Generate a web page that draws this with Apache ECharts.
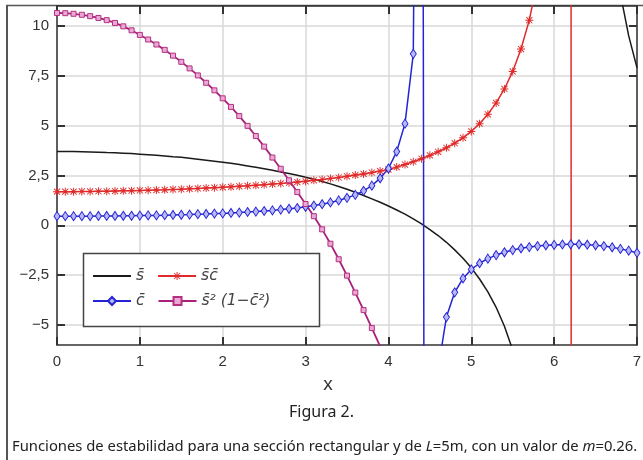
<!DOCTYPE html>
<html>
<head>
<meta charset="utf-8">
<title>Funciones de estabilidad</title>
<script src="https://cdn.jsdelivr.net/npm/echarts@6/dist/echarts.min.js"></script>
<style>
  html, body { margin: 0; padding: 0; background: #fff; }
  #chart { width: 643px; height: 460px; }
</style>
</head>
<body>
<div id="chart"></div>
<script>
// x values (sampling step of the markers)
const xs = [
  0, 0.1, 0.2, 0.3, 0.4, 0.5, 0.6, 0.7, 0.8, 0.9,
  1, 1.1, 1.2, 1.3, 1.4, 1.5, 1.6, 1.7, 1.8, 1.9,
  2, 2.1, 2.2, 2.3, 2.4, 2.5, 2.6, 2.7, 2.8, 2.9,
  3, 3.1, 3.2, 3.3, 3.4, 3.5, 3.6, 3.7, 3.8, 3.9,
  4, 4.1, 4.2, 4.3, 4.4, 4.5, 4.6, 4.7, 4.8, 4.9,
  5, 5.1, 5.2, 5.3, 5.4, 5.5, 5.6, 5.7, 5.8, 5.9,
  6, 6.1, 6.2, 6.3, 6.4, 6.5, 6.6, 6.7, 6.8, 6.9,
  7
];

// s bar (black line)
const sBar = [
  3.70, 3.70, 3.70, 3.69, 3.68, 3.67, 3.65, 3.64, 3.62, 3.60,
  3.57, 3.54, 3.51, 3.48, 3.44, 3.41, 3.37, 3.32, 3.27, 3.22,
  3.17, 3.11, 3.05, 2.98, 2.91, 2.84, 2.76, 2.68, 2.60, 2.51,
  2.41, 2.31, 2.20, 2.08, 1.95, 1.81, 1.66, 1.50, 1.33, 1.16,
  0.97, 0.77, 0.56, 0.32, 0.07, -0.21, -0.51, -0.85, -1.23, -1.65,
  -2.13, -2.69, -3.34, -4.11, -5.06, -6.25, -7.80, null, null, null,
  null, null, null, null, null, null, null, null, 11.6, 9.5,
  7.9
];

// sc bar (red, stars)
const scBar = [
  1.69, 1.69, 1.69, 1.70, 1.70, 1.71, 1.71, 1.72, 1.73, 1.74,
  1.75, 1.76, 1.77, 1.78, 1.80, 1.81, 1.83, 1.85, 1.87, 1.89,
  1.91, 1.93, 1.96, 1.98, 2.01, 2.04, 2.07, 2.10, 2.14, 2.17,
  2.21, 2.26, 2.30, 2.35, 2.40, 2.46, 2.52, 2.58, 2.65, 2.72,
  2.80, 2.92, 3.05, 3.19, 3.34, 3.51, 3.69, 3.89, 4.12, 4.39,
  4.71, 5.10, 5.57, 6.14, 6.84, 7.72, 8.84, 10.29, 12.3, 15.2,
  19.5, 27, 60, -1100, null, null, null, null, null, null,
  null
];

// c bar (blue, diamonds)
const cBar = [
  0.46, 0.46, 0.46, 0.46, 0.46, 0.47, 0.47, 0.47, 0.48, 0.48,
  0.49, 0.50, 0.50, 0.51, 0.52, 0.53, 0.54, 0.56, 0.57, 0.59,
  0.60, 0.62, 0.64, 0.67, 0.69, 0.72, 0.75, 0.79, 0.83, 0.87,
  0.93, 0.99, 1.06, 1.15, 1.25, 1.38, 1.53, 1.73, 1.99, 2.36,
  2.85, 3.70, 5.10, 8.60, 60, -180, -7.2, -4.6, -3.36, -2.66,
  -2.21, -1.90, -1.67, -1.49, -1.35, -1.24, -1.15, -1.09, -1.04, -1.00,
  -0.98, -0.96, -0.95, -0.95, -0.97, -1.00, -1.04, -1.10, -1.18, -1.27,
  -1.38
];

// s bar^2 (1 - c bar^2) (magenta, squares)
const s2c = [
  10.65, 10.64, 10.61, 10.56, 10.49, 10.40, 10.29, 10.15, 9.98, 9.78,
  9.55, 9.32, 9.07, 8.80, 8.51, 8.20, 7.87, 7.52, 7.15, 6.77,
  6.37, 5.94, 5.48, 4.99, 4.48, 3.95, 3.40, 2.84, 2.26, 1.67,
  1.07, 0.46, -0.20, -0.92, -1.70, -2.52, -3.37, -4.25, -5.15, -6.07,
  -7.01, null, null, null, null, null, null, null, null, null,
  null, null, null, null, null, null, null, null, null, null,
  null, null, null, null, null, null, null, null, null, null,
  null
];

const yTicks = [-5, -2.5, 0, 2.5, 5, 7.5, 10];

const N_S = 's\u0304';
const N_SC = 's\u0304c\u0304';
const N_C = 'c\u0304';
const N_MAG = 's\u0304\u00b2 (1\u2212c\u0304\u00b2)';

const asterisk = 'path://M4.4 0h1.2v10h-1.2z M0 4.4h10v1.2h-10z M0.8 1.6L1.6 0.8L9.2 8.4L8.4 9.2z M8.4 0.8L9.2 1.6L1.6 9.2L0.8 8.4z';

const pairs = ys => xs.map((x, i) => [x, ys[i] === null ? '-' : ys[i]]);
const fmtY = v => String(v).replace('.', ',').replace('-', '\u2212');

const axisColor = '#333';
const gridColor = '#d9d9d9';
const labelFont = { fontSize: 15, color: '#333', fontFamily: 'Liberation Sans' };

const legendCommon = {
  orient: 'horizontal',
  left: 92,
  padding: 0,
  itemWidth: 38,
  itemHeight: 10,
  itemGap: 13,
  selectedMode: false,
  textStyle: { fontFamily: 'DejaVu Sans', fontStyle: 'italic', fontSize: 15.5, color: '#444' }
};

const chart = echarts.init(document.getElementById('chart'));
chart.setOption({
  animation: false,
  backgroundColor: '#fff',
  grid: { left: 57, right: 6, top: 6, bottom: 115, containLabel: false, outerBoundsMode: 'none' },
  xAxis: [{
    type: 'value', min: 0, max: 7, interval: 1,
    axisLine: { show: true, onZero: false, lineStyle: { color: axisColor, width: 1.5 } },
    axisTick: { show: true, inside: true, length: 8, lineStyle: { color: axisColor, width: 2 } },
    axisLabel: Object.assign({ margin: 9 }, labelFont),
    splitLine: { show: true, lineStyle: { color: gridColor, width: 1.5 } }
  }, {
    type: 'value', min: 0, max: 7, interval: 1, position: 'top',
    axisLine: { show: true, onZero: false, lineStyle: { color: axisColor, width: 1.5 } },
    axisTick: { show: true, inside: true, length: 8, lineStyle: { color: axisColor, width: 2 } },
    axisLabel: { show: false },
    splitLine: { show: false }
  }],
  yAxis: [{
    type: 'value', min: -6, max: 11,
    axisLine: { show: true, onZero: false, lineStyle: { color: axisColor, width: 1.5 } },
    axisTick: { show: true, inside: true, length: 8, customValues: yTicks, lineStyle: { color: axisColor, width: 2 } },
    axisLabel: Object.assign({ margin: 8, customValues: yTicks, formatter: fmtY }, labelFont),
    splitLine: { show: true, lineStyle: { color: gridColor, width: 1.5 } }
  }, {
    type: 'value', min: -6, max: 11, position: 'right',
    axisLine: { show: true, onZero: false, lineStyle: { color: axisColor, width: 1.5 } },
    axisTick: { show: true, inside: true, length: 8, customValues: yTicks, lineStyle: { color: axisColor, width: 2 } },
    axisLabel: { show: false },
    splitLine: { show: false }
  }],
  legend: [
    Object.assign({ top: 268, data: [{ name: N_S, itemStyle: { opacity: 0 } }, N_SC] }, legendCommon),
    Object.assign({ top: 293, data: [N_C, N_MAG] }, legendCommon)
  ],
  graphic: [
    { type: 'line', shape: { x1: 7, y1: 5, x2: 7, y2: 460 }, style: { stroke: '#555', lineWidth: 2 } },
    { type: 'line', shape: { x1: 6, y1: 5.5, x2: 643, y2: 5.5 }, style: { stroke: '#555', lineWidth: 1.5 } },
    { type: 'rect', z: 3, shape: { x: 83.5, y: 253.5, width: 236, height: 73 },
      style: { fill: '#fff', stroke: '#444', lineWidth: 1.5 } },
    { type: 'text', x: 328, y: 385,
      style: { text: 'x', font: '19px "Liberation Sans"', fill: '#333', align: 'center', verticalAlign: 'middle' } },
    { type: 'text', x: 321.5, y: 412,
      style: { text: 'Figura 2.', font: '16px "Noto Sans"', fill: '#222', align: 'center', verticalAlign: 'middle' } },
    { type: 'text', x: 12, y: 447,
      style: {
        text: 'Funciones de estabilidad para una sección rectangular y de {i|L}=5m, con un valor de {i|m}=0.26.',
        font: '14.8px "Noto Sans"', fill: '#222', align: 'left', verticalAlign: 'middle',
        rich: { i: { fontStyle: 'italic', fontSize: 14.8, fontFamily: 'Noto Sans', fill: '#222' } }
      } }
  ],
  series: [{
    name: N_S, type: 'line', data: pairs(sBar),
    symbol: 'none', clip: true,
    lineStyle: { color: '#1a1a1a', width: 1.5 },
    itemStyle: { color: '#1a1a1a' }
  }, {
    name: N_SC, type: 'line', data: pairs(scBar),
    symbol: asterisk, symbolSize: 8, showAllSymbol: true, clip: true,
    lineStyle: { color: '#e02a2a', width: 1.5 },
    itemStyle: { color: '#e02a2a' }
  }, {
    name: N_C, type: 'line', data: pairs(cBar),
    symbol: 'diamond', symbolSize: [6, 9], showAllSymbol: true, clip: true,
    lineStyle: { color: '#2424d4', width: 1.5 },
    itemStyle: { color: '#b8b8f6', borderColor: '#2424d4', borderWidth: 1 }
  }, {
    name: N_MAG, type: 'line', data: pairs(s2c),
    symbol: 'rect', symbolSize: 5, showAllSymbol: true, clip: true,
    lineStyle: { color: '#a8207a', width: 1.8 },
    itemStyle: { color: '#eaa8d6', borderColor: '#b5307f', borderWidth: 1 }
  }]
});
</script>
</body>
</html>
